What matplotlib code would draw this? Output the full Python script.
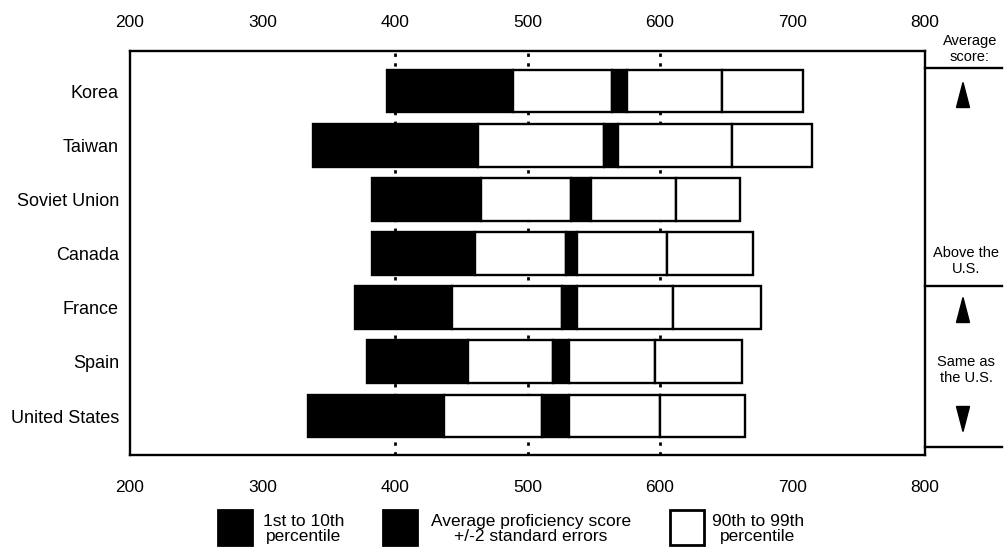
import matplotlib
matplotlib.use("Agg")
import matplotlib.pyplot as plt
from matplotlib.patches import Polygon, Rectangle

plt.rcParams['font.family'] = ['Liberation Sans', 'DejaVu Sans']

countries = ["Korea", "Taiwan", "Soviet Union", "Canada", "France", "Spain", "United States"]
p1 = [394, 338, 383, 383, 370, 379, 334]
p10 = [489, 463, 465, 460, 443, 455, 437]
se_low = [564, 558, 533, 529, 526, 519, 511]
se_high = [575, 568, 548, 537, 537, 531, 531]
p90 = [647, 654, 612, 605, 610, 596, 600]
p99 = [708, 715, 660, 670, 676, 662, 664]
xticks = [200, 300, 400, 500, 600, 700, 800]
grid_x = [400, 500, 600]

W, H = 1007, 549
fig = plt.figure(figsize=(W / 100, H / 100), dpi=100)
ax = fig.add_axes([130 / W, 1 - 455 / H, 795 / W, 404 / H])

ypos = list(range(len(countries)))
bh = 0.79
segs = [
    (p1, p10, 'black'),
    (p10, se_low, 'white'),
    (se_low, se_high, 'black'),
    (se_high, p90, 'white'),
    (p90, p99, 'white'),
]
for lo, hi, col in segs:
    ax.barh(ypos, [h - l for l, h in zip(lo, hi)], left=lo, height=bh,
            color=col, edgecolor='black', linewidth=1.7, zorder=3)

for gx in grid_x:
    ax.axvline(gx, color='black', linewidth=2.0, linestyle=(0, (1.2, 2.3)), zorder=1)

ax.set_xlim(200, 800)
ax.set_ylim(6.72, -0.74)
ax.set_yticks(ypos)
ax.set_yticklabels(countries, fontsize=13)
ax.set_xticks(xticks)
ax.set_xticklabels([str(v) for v in xticks], fontsize=12.5)
ax.tick_params(axis='x', length=0, pad=18)
ax.tick_params(axis='y', length=0, pad=8)
for s in ax.spines.values():
    s.set_linewidth(1.7)

sec = ax.secondary_xaxis('top')
sec.set_xticks(xticks)
sec.set_xticklabels([str(v) for v in xticks], fontsize=12.5)
sec.tick_params(length=0, pad=15)
sec.spines['top'].set_visible(False)

# overlay in pixel coordinates for side panel and legend
ov = fig.add_axes([0, 0, 1, 1], zorder=5)
ov.set_xlim(0, W)
ov.set_ylim(H, 0)
ov.axis('off')
ov.patch.set_alpha(0)

for yy in [68, 286, 447]:
    ov.plot([925, 1002], [yy, yy], color='black', linewidth=1.7)

ov.text(970, 49, "Average\nscore:", ha='center', va='center', fontsize=10.5, linespacing=1.2)
ov.text(966, 261, "Above the\nU.S.", ha='center', va='center', fontsize=10.5, linespacing=1.2)
ov.text(966, 370, "Same as\nthe U.S.", ha='center', va='center', fontsize=10.5, linespacing=1.2)

def tri(cx, cy, up=True, w=13, h=25):
    if up:
        pts = [(cx - w / 2, cy + h / 2), (cx + w / 2, cy + h / 2), (cx, cy - h / 2)]
    else:
        pts = [(cx - w / 2, cy - h / 2), (cx + w / 2, cy - h / 2), (cx, cy + h / 2)]
    ov.add_patch(Polygon(pts, closed=True, color='black'))

tri(963, 95, True)
tri(963, 310, True)
tri(963, 419, False)

# legend
leg = [
    (218, 'black', "1st to 10th\npercentile", 304),
    (383, 'black', "Average proficiency score\n+/-2 standard errors", 531),
    (670, 'white', "90th to 99th\npercentile", 758),
]
for x0, col, txt, tx in leg:
    ov.add_patch(Rectangle((x0, 510), 34, 35, facecolor=col, edgecolor='black', linewidth=2))
    ov.text(tx, 529, txt, ha='center', va='center', fontsize=12.5, linespacing=1.0)

fig.savefig("out.png", dpi=100)
